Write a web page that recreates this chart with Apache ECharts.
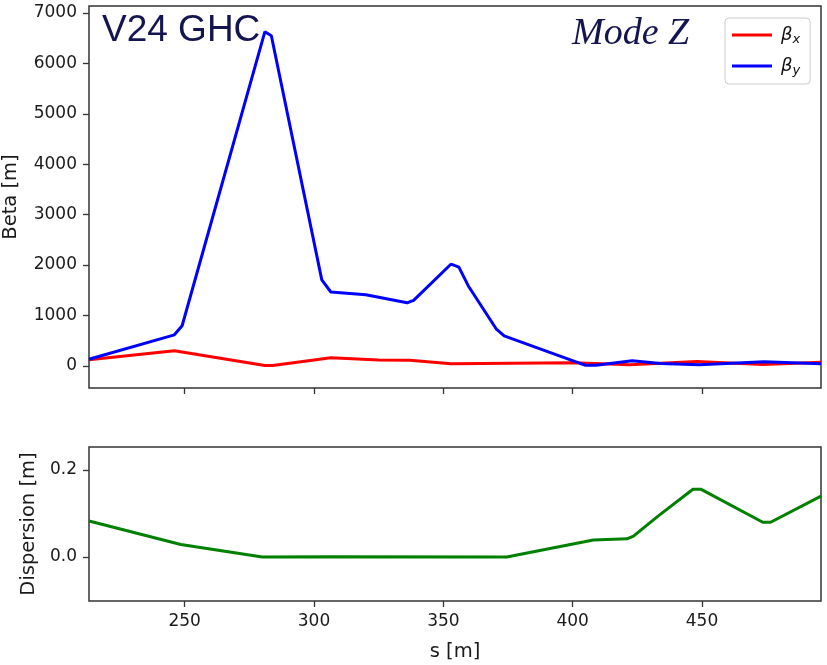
<!DOCTYPE html>
<html>
<head>
<meta charset="utf-8">
<title>V24 GHC – Mode Z optics</title>
<script src="https://cdn.jsdelivr.net/npm/echarts@6/dist/echarts.min.js"></script>
<style>
  html, body { margin: 0; padding: 0; background: #ffffff; }
  #chart { width: 827px; height: 665px; }
</style>
</head>
<body>
<div id="chart"></div>
<script>
// Horizontal beta function along the line
const sBetaX = [213, 246, 281, 284, 306.5, 325, 337, 353, 400, 422, 448, 473.5, 496];
const betaX  = [120, 300, 5, 5, 160, 115, 110, 40, 62, 20, 85, 25, 72];

// Vertical beta function along the line
const sBetaY = [213, 246, 249, 281, 283.5, 303, 306.5, 320, 336, 338.5, 353, 356, 359.6, 370.4, 373.5, 405, 409, 423, 434, 449, 474, 496];
const betaY  = [130, 615, 795, 6630, 6550, 1705, 1465, 1410, 1250, 1300, 2020, 1960, 1590, 735, 595, 10, 12, 100, 45, 20, 80, 40];

// Horizontal dispersion along the line
const sDisp = [213, 248.5, 280, 306, 374.5, 408, 421, 423.5, 433, 446.5, 449.5, 473.5, 476.5, 496];
const disp  = [0.083, 0.029, 0.0, 0.001, 0.0, 0.039, 0.042, 0.048, 0.094, 0.156, 0.156, 0.080, 0.080, 0.140];

// Tick positions
const sTicks = [250, 300, 350, 400, 450];
const betaTicks = [0, 1000, 2000, 3000, 4000, 5000, 6000, 7000];
const dispTicks = [0.0, 0.2];

const S_MIN = 213, S_MAX = 496;

const pairs = (xs, ys) => xs.map((x, i) => [x, ys[i]]);

const tickFont = { fontFamily: 'DejaVu Sans', fontSize: 17, color: '#1a1a1a' };
const nameFont = { fontFamily: 'DejaVu Sans', fontSize: 19.5, color: '#1a1a1a' };
const tickStyle = { lineStyle: { color: '#333', width: 1.3 }, length: 6, inside: false };
const hiddenLine = { show: false, onZero: false };

const chart = echarts.init(document.getElementById('chart'), null, { renderer: 'canvas' });

chart.setOption({
  backgroundColor: '#ffffff',
  animation: false,
  title: [
    {
      text: 'V24 GHC',
      left: 102, top: 12, padding: 0,
      textStyle: { fontFamily: 'Liberation Sans', fontSize: 37, fontWeight: 'normal', color: '#141450' }
    },
    {
      text: 'Mode Z',
      left: 572, top: 15, padding: 0,
      textStyle: { fontFamily: 'Liberation Serif', fontStyle: 'italic', fontSize: 38, fontWeight: 'normal', color: '#141450' }
    }
  ],
  legend: {
    data: ['bx', 'by'],
    left: 725, top: 18,
    orient: 'vertical',
    padding: [8, 10, 7, 7],
    itemGap: 11,
    itemWidth: 40, itemHeight: 3,
    icon: 'rect',
    borderColor: '#cccccc', borderWidth: 1, borderRadius: 4,
    backgroundColor: '#ffffff',
    formatter: name => name === 'bx' ? '{b|β}{s|x}' : '{b|β}{s|y}',
    textStyle: {
      padding: [0, 0, 0, 4],
      rich: {
        b: { fontFamily: 'DejaVu Sans', fontStyle: 'italic', fontSize: 18, color: '#111', lineHeight: 22 },
        s: { fontFamily: 'DejaVu Sans', fontStyle: 'italic', fontSize: 13, color: '#111', lineHeight: 22, verticalAlign: 'bottom', padding: [6, 0, 0, 0] }
      }
    }
  },
  grid: [
    { left: 89, top: 6, width: 732, height: 382, show: true, borderColor: '#333', borderWidth: 1.5, backgroundColor: 'transparent', outerBoundsMode: 'none', containLabel: false },
    { left: 89, top: 447, width: 732, height: 154, show: true, borderColor: '#333', borderWidth: 1.5, backgroundColor: 'transparent', outerBoundsMode: 'none', containLabel: false }
  ],
  xAxis: [
    {
      type: 'value', gridIndex: 0, min: S_MIN, max: S_MAX,
      axisLine: hiddenLine,
      axisTick: Object.assign({ show: true, customValues: sTicks }, tickStyle),
      axisLabel: { show: false },
      splitLine: { show: false }
    },
    {
      type: 'value', gridIndex: 1, min: S_MIN, max: S_MAX,
      name: 's [m]', nameLocation: 'middle', nameGap: 41,
      nameTextStyle: nameFont,
      axisLine: hiddenLine,
      axisTick: Object.assign({ show: true, customValues: sTicks }, tickStyle),
      axisLabel: Object.assign({ show: true, customValues: sTicks, margin: 12 }, tickFont),
      splitLine: { show: false }
    }
  ],
  yAxis: [
    {
      type: 'value', gridIndex: 0, min: -440, max: 7140,
      name: 'Beta [m]', nameLocation: 'middle', nameGap: 68,
      nameTextStyle: nameFont,
      axisLine: hiddenLine,
      axisTick: Object.assign({ show: true, customValues: betaTicks }, tickStyle),
      axisLabel: Object.assign({ show: true, customValues: betaTicks, margin: 12, formatter: v => String(v) }, tickFont),
      splitLine: { show: false }
    },
    {
      type: 'value', gridIndex: 1, min: -0.101, max: 0.253,
      name: 'Dispersion [m]', nameLocation: 'middle', nameGap: 49,
      nameTextStyle: nameFont,
      axisLine: hiddenLine,
      axisTick: Object.assign({ show: true, customValues: dispTicks }, tickStyle),
      axisLabel: Object.assign({ show: true, customValues: dispTicks, margin: 12, formatter: v => v.toFixed(1) }, tickFont),
      splitLine: { show: false }
    }
  ],
  series: [
    {
      name: 'bx', type: 'line', xAxisIndex: 0, yAxisIndex: 0,
      data: pairs(sBetaX, betaX), showSymbol: false, symbol: 'none',
      color: '#ff0000', lineStyle: { color: '#ff0000', width: 3 }, z: 2
    },
    {
      name: 'by', type: 'line', xAxisIndex: 0, yAxisIndex: 0,
      data: pairs(sBetaY, betaY), showSymbol: false, symbol: 'none',
      color: '#0000ff', lineStyle: { color: '#0000ff', width: 3 }, z: 3
    },
    {
      name: 'D', type: 'line', xAxisIndex: 1, yAxisIndex: 1,
      data: pairs(sDisp, disp), showSymbol: false, symbol: 'none',
      color: '#008000', lineStyle: { color: '#008000', width: 3 }
    }
  ]
});
</script>
</body>
</html>
